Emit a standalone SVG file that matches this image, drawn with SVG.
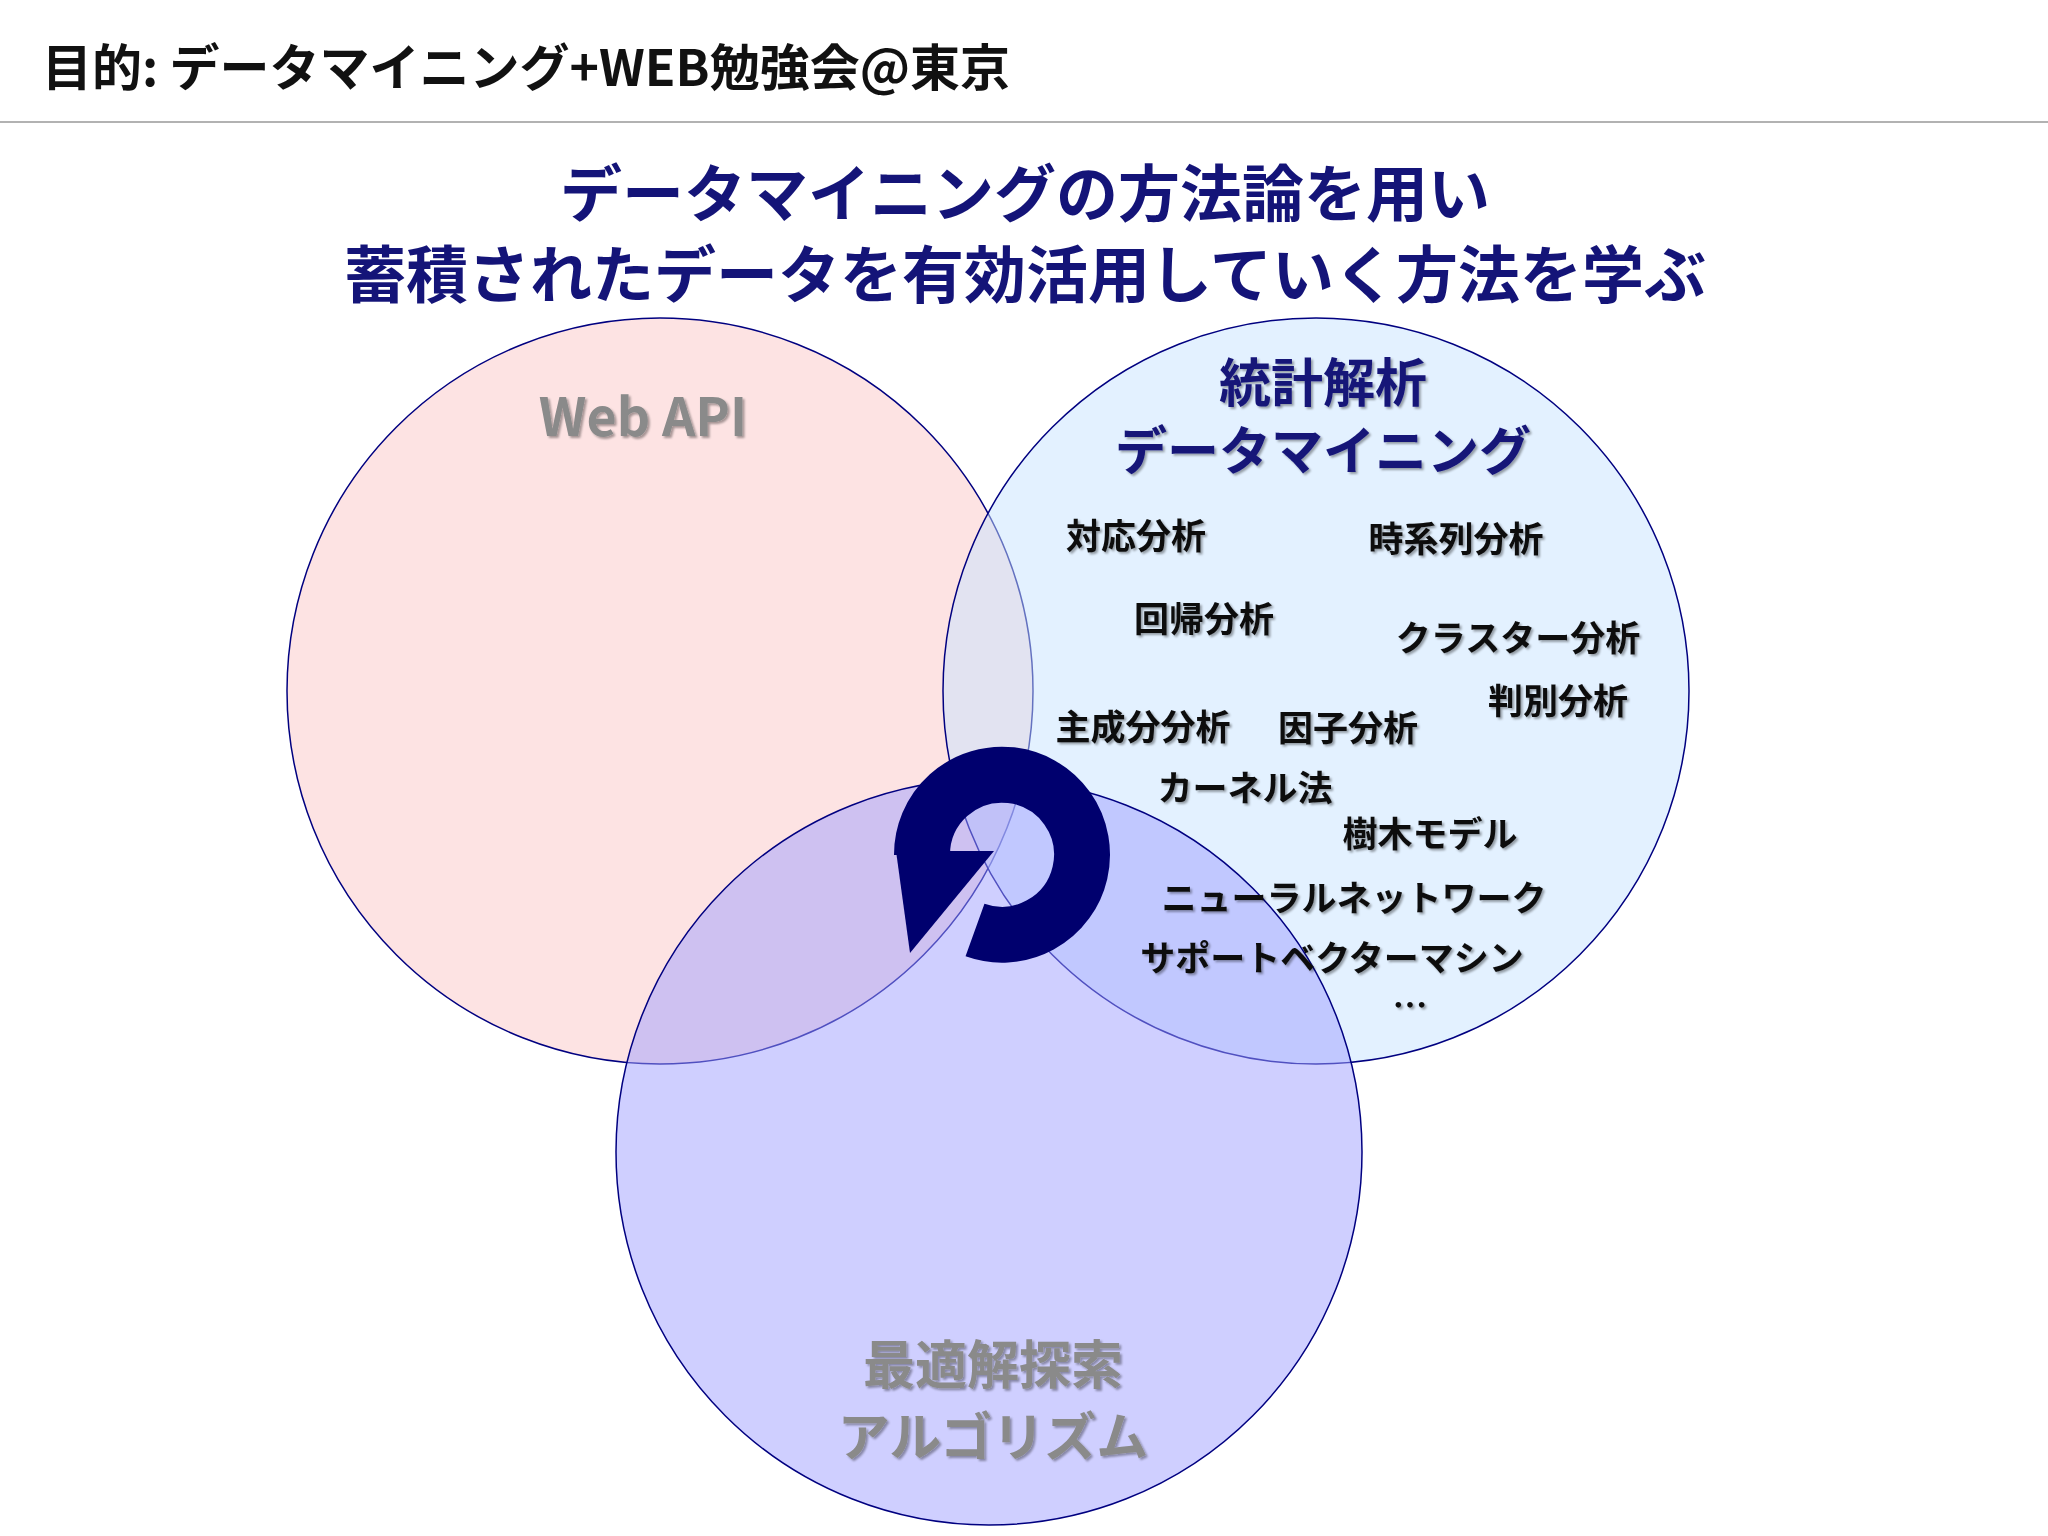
<svg xmlns="http://www.w3.org/2000/svg" width="2048" height="1536" viewBox="0 0 2048 1536">
<defs>
<filter id="sh" x="-10%" y="-10%" width="130%" height="140%"><feDropShadow dx="2" dy="2" stdDeviation="1" flood-color="#000" flood-opacity="0.35"/></filter>
<style>
text{font-family:"Noto Sans CJK JP","Noto Sans",sans-serif;font-weight:bold}
.t{font-size:50px;fill:#111}
.h{font-size:62px;fill:#141478;text-anchor:middle}
.g{font-size:52px;fill:#8a8a8a;text-anchor:middle;filter:url(#sh)}
.n{font-size:52px;fill:#141478;text-anchor:middle;filter:url(#sh)}
.i{font-size:35px;fill:#111;text-anchor:middle;filter:url(#sh)}
.c{stroke:#000080;stroke-width:1.5}
</style>
</defs>
<rect width="2048" height="1536" fill="#fff"/>
<text class="t" x="42" y="86">目的: データマイニング+WEB勉強会@東京</text>
<line x1="0" y1="122" x2="2048" y2="122" stroke="#999" stroke-width="1.5"/>
<text class="h" x="1025" y="217">データマイニングの方法論を用い</text>
<text class="h" x="1025" y="298">蓄積されたデータを有効活用していく方法を学ぶ</text>
<g id="web"><circle class="c" cx="660" cy="691" r="373" fill="#fcc8c8" fill-opacity="0.5"/></g>
<g id="stat"><circle class="c" cx="1316" cy="691" r="373" fill="#c8e4ff" fill-opacity="0.5"/></g>
<g id="algo"><circle class="c" cx="989" cy="1152" r="373" fill="#a0a0ff" fill-opacity="0.5"/></g>
<g id="web-label"><text class="g" x="643" y="436">Web API</text></g>
<g id="stat-label">
<text class="n" x="1323" y="402">統計解析</text><text class="n" x="1323" y="470">データマイニング</text>
<text class="i" x="1136" y="549">対応分析</text>
<text class="i" x="1456" y="552">時系列分析</text>
<text class="i" x="1204" y="632">回帰分析</text>
<text class="i" x="1518" y="651">クラスター分析</text>
<text class="i" x="1558" y="714">判別分析</text>
<text class="i" x="1143" y="740">主成分分析</text>
<text class="i" x="1348" y="741">因子分析</text>
<text class="i" x="1245" y="801">カーネル法</text>
<text class="i" x="1430" y="847">樹木モデル</text>
<text class="i" x="1354" y="911">ニューラルネットワーク</text>
<text class="i" x="1332" y="971">サポートベクターマシン</text>
<text class="i" x="1410" y="1018">…</text></g>
<g id="algo-label"><text class="g" x="993" y="1384">最適解探索</text><text class="g" x="993" y="1456">アルゴリズム</text></g>
<g id="cycle">
<path d="M975 930 A80 80 0 1 0 922 855" fill="none" stroke="#00006e" stroke-width="56"/>
<polygon points="896,851 994,851 910,953" fill="#00006e"/>
</g>
</svg>
